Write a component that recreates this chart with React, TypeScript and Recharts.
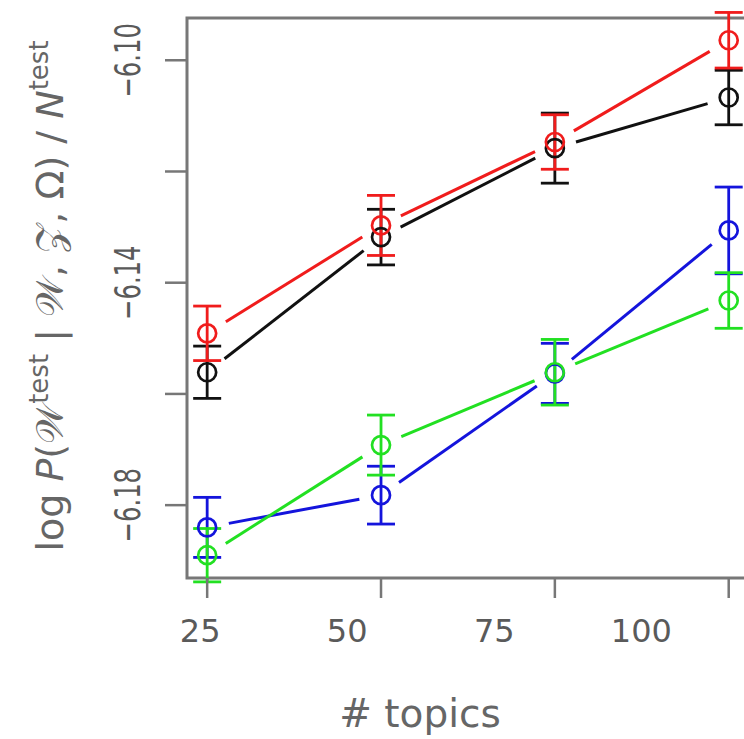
import React from 'react';
import { ScatterChart, Scatter, XAxis, YAxis, ErrorBar, ReferenceArea } from 'recharts';

const topics = [25, 50, 75, 100];

const redMean = [-6.1491, -6.1297, -6.1147, -6.0964];
const redErr = [0.0049, 0.0054, 0.0049, 0.005];
const blackMean = [-6.1561, -6.1318, -6.1158, -6.1067];
const blackErr = [0.0047, 0.005, 0.0063, 0.0049];
const blueMean = [-6.184, -6.1782, -6.1563, -6.1306];
const blueErr = [0.0054, 0.0052, 0.0054, 0.0078];
const greenMean = [-6.189, -6.1692, -6.1561, -6.1432];
const greenErr = [0.0048, 0.0054, 0.0059, 0.005];

const yTicks = [-6.18, -6.16, -6.14, -6.12, -6.1];
const yLabelled = [-6.18, -6.14, -6.1];

const xDomain = [22.1, 104.5];
const yDomain = [-6.1931, -6.0924];

const AXIS = '#777';
const TEXT = '#5a5a5a';
const FONT = 'DejaVu Sans';

const rows = (mean: number[], err: number[]) =>
  topics.map((x, i) => ({ x, y: mean[i], err: err[i] }));

const series = [
  { name: 'black', color: '#111111', data: rows(blackMean, blackErr) },
  { name: 'red', color: '#f01c1c', data: rows(redMean, redErr) },
  { name: 'blue', color: '#1414dc', data: rows(blueMean, blueErr) },
  { name: 'green', color: '#22e022', data: rows(greenMean, greenErr) },
];

// open circle, like R's pch = 1
const circleShape = (color: string) => (props: any) => (
  <circle cx={props.cx} cy={props.cy} r={9} fill="none" stroke={color} strokeWidth={2.7} />
);

// R type = "b": segments that stop short of the points
const gapLine = (color: string) => (props: any) => {
  const pts = props.points || [];
  const gap = 22;
  const segs = [];
  for (let i = 0; i < pts.length - 1; i++) {
    const p = pts[i];
    const q = pts[i + 1];
    const dx = q.x - p.x;
    const dy = q.y - p.y;
    const len = Math.sqrt(dx * dx + dy * dy);
    if (len <= gap * 2) continue;
    const ux = dx / len;
    const uy = dy / len;
    segs.push(
      <line
        key={i}
        x1={p.x + ux * gap}
        y1={p.y + uy * gap}
        x2={q.x - ux * gap}
        y2={q.y - uy * gap}
        stroke={color}
        strokeWidth={3}
      />
    );
  }
  return <g>{segs}</g>;
};

const XTick = (props: any) => {
  const { x, y, payload } = props;
  // labels sit slightly left of their tick marks in the original
  const lx = 200 + (x - 207) * 0.846;
  return (
    <text x={lx} y={y + 42} textAnchor="middle" fill={TEXT} fontSize={32} fontFamily={FONT}>
      {payload.value}
    </text>
  );
};

const YTick = (props: any) => {
  const { y, payload } = props;
  const v = payload.value;
  if (!yLabelled.some((t) => Math.abs(t - v) < 1e-6)) return null;
  const label = '\u2212' + Math.abs(v).toFixed(2);
  return (
    <text
      transform={`translate(140, ${y}) rotate(-90) scale(0.76, 1.12)`}
      textAnchor="middle"
      fill={TEXT}
      fontSize={32}
      fontFamily={FONT}
    >
      {label}
    </text>
  );
};

export default function App() {
  return (
    <div
      style={{
        position: 'absolute',
        left: 0,
        top: 0,
        width: 744,
        height: 739,
        overflow: 'hidden',
        background: '#fff',
      }}
    >
      <ScatterChart width={800} height={739} margin={{ top: 18, right: 40, bottom: 0, left: 0 }}>
        <XAxis
          type="number"
          dataKey="x"
          domain={xDomain}
          allowDataOverflow
          ticks={topics}
          height={161}
          axisLine={false}
          tickSize={20}
          tickLine={{ stroke: AXIS, strokeWidth: 2.5 }}
          tick={<XTick />}
          interval={0}
        />
        <YAxis
          type="number"
          dataKey="y"
          domain={yDomain}
          allowDataOverflow
          ticks={yTicks}
          width={187}
          axisLine={false}
          tickSize={22}
          tickLine={{ stroke: AXIS, strokeWidth: 2.5 }}
          tick={<YTick />}
          interval={0}
        />
        <ReferenceArea
          x1={xDomain[0]}
          x2={xDomain[1]}
          y1={yDomain[0]}
          y2={yDomain[1]}
          fill="none"
          fillOpacity={0}
          stroke={AXIS}
          strokeWidth={3}
          ifOverflow="visible"
        />
        {series.map((s) => (
          <Scatter
            key={s.name}
            name={s.name}
            data={s.data}
            dataKey="y"
            fill={s.color}
            shape={circleShape(s.color)}
            line={gapLine(s.color)}
            isAnimationActive={false}
          >
            <ErrorBar dataKey="err" direction="y" width={14} stroke={s.color} strokeWidth={2.8} />
          </Scatter>
        ))}
        <text
          transform="translate(63, 296) rotate(-90)"
          textAnchor="middle"
          fill="#666"
          fontSize={38}
          fontFamily={FONT}
        >
          {'log '}
          <tspan fontStyle="italic">P</tspan>
          {'(\u{1D4B2}'}
          <tspan dy={-15} fontSize={26}>test</tspan>
          <tspan dy={15}>{' | \u{1D4B2}, \u{1D4B5}, \u03A9) / '}</tspan>
          <tspan fontStyle="italic">N</tspan>
          <tspan dy={-15} fontSize={26}>test</tspan>
        </text>
        <text x={420} y={727} textAnchor="middle" fill="#666" fontSize={39} fontFamily={FONT}>
          # topics
        </text>
      </ScatterChart>
    </div>
  );
}
